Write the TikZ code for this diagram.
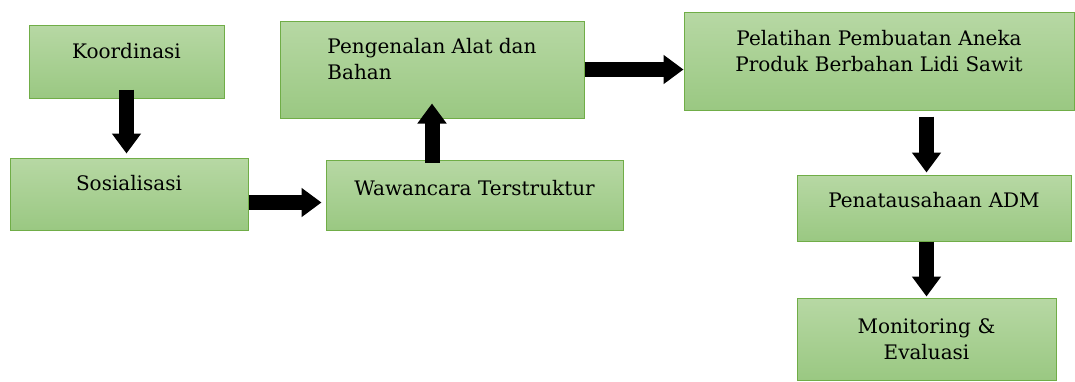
\documentclass[tikz,border=0pt]{standalone}
\usepackage{fontspec}
\setmainfont{DejaVu Serif}
\usepackage{tikz}
\usetikzlibrary{arrows.meta,calc}

\definecolor{hijauA}{RGB}{183,216,164}
\definecolor{hijauB}{RGB}{154,200,130}
\definecolor{garis}{RGB}{112,173,71}

\begin{document}
\begin{tikzpicture}[
	x = 1pt, y = -1pt, % pixel grid, y downwards
	K/.style={rectangle, draw=garis, line width=1pt, top color=hijauA, bottom color=hijauB,
	          inner sep=0pt, align=center, font=\fontsize{20}{26}\selectfont},  % kotak
	P/.style={line width=15pt, black, -{Triangle[width=28pt, length=20pt]}},    % panah blok
	]

	% \useasboundingbox fixes the margins
	\useasboundingbox (0,0) rectangle (1075,381);

	% Nodes (boxes) at their centres
	\node[K, minimum width=195, minimum height=73, text width=185, text height=33, text depth=40] (koor) at (126.5,61.5) {Koordinasi};
	\node[K, minimum width=238, minimum height=72, text width=228, text height=32, text depth=40] (sos)  at (129,194) {Sosialisasi};
	\node[K, minimum width=297, minimum height=70, text width=287, text height=35, text depth=35] (waw)  at (474.5,195) {Wawancara Terstruktur};
	\node[K, minimum width=304, minimum height=97, text height=32, text depth=65] (peng) at (432,69.5)
		{\begin{tabular}[t]{@{}l@{}}Pengenalan Alat dan\\Bahan\end{tabular}};
	\node[K, minimum width=390, minimum height=98, text width=380, text height=33, text depth=65] (pel)  at (879,61) {Pelatihan Pembuatan Aneka\\Produk Berbahan Lidi Sawit};
	\node[K, minimum width=274, minimum height=66, text width=264, text height=32, text depth=34] (pen)  at (934,208) {Penatausahaan ADM};
	\node[K, minimum width=259, minimum height=82, text width=249, text height=35, text depth=47] (mon)  at (926.5,339) {Monitoring \&\\Evaluasi};

	% Block arrows between boxes
	\draw[P] ([yshift=9pt]koor.south) -- ([yshift=4pt]koor.south |- sos.north);
	\draw[P] ($(sos.east)+(0,8.5)$) -- ($(waw.west)+(-4,7.5)$);
	\draw[P] ($(peng.south |- waw.north)+(0,3)$) -- ([yshift=15pt]peng.south);
	\draw[P] (peng.east) -- (pel.west |- peng.east);
	\draw[P] ($(mon.north |- pel.south)+(0,6)$) -- ($(mon.north |- pen.north)+(0,-2)$);
	\draw[P] (mon.north |- pen.south) -- ([yshift=1pt]mon.north);

\end{tikzpicture}
\end{document}
